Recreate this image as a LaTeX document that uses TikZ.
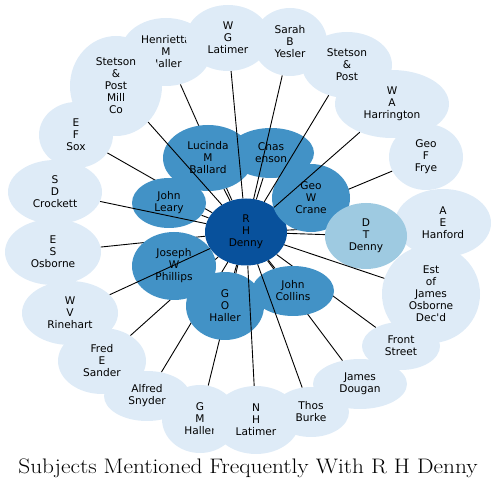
\documentclass[tikz,border=0pt]{standalone}
\usepackage{fontspec}
\newfontfamily\bubblefont{DejaVu Sans}
\usetikzlibrary{shapes.geometric}
\pgfdeclarelayer{background}
\pgfdeclarelayer{foreground}
\pgfsetlayers{background,main,foreground}
\definecolor{outerblue}{HTML}{DEEBF7}
\definecolor{innerblue}{HTML}{4292C6}
\definecolor{paleblue}{HTML}{9ECAE1}
\definecolor{coreblue}{HTML}{08519C}
\tikzset{
  bubble/.style={ellipse, inner sep=0pt, align=center,
    font={\bubblefont\fontsize{10.6}{12}\selectfont}},
  sz/.style 2 args={minimum width=#1pt, minimum height=#2pt},
  outer/.style={bubble, fill=outerblue},
  inner/.style={bubble, fill=innerblue},
  link/.style={line width=0.9pt},
}
\begin{document}
\begin{tikzpicture}[x=1pt,y=-1pt]
\useasboundingbox (0,0) rectangle (496,489);
% outer ring
\node[outer, sz={90}{68}] (henrietta) at (166,52) {Henrietta\\M\\Haller};
\node[outer, sz={92}{100}] (stetsonmill) at (116,86) {Stetson\\\&\\Post\\Mill\\Co};
\node[outer, sz={84}{66}] (wglatimer) at (228,38) {W\\G\\Latimer};
\node[outer, sz={74}{68}] (yesler) at (290,42) {Sarah\\B\\Yesler};
\node[outer, sz={114}{68}] (harrington) at (392,104) {W\\A\\Harrington};
\node[outer, sz={90}{66}] (stetsonpost) at (347,65) {Stetson\\\&\\Post};
\node[outer, sz={74}{66}] (frye) at (426,157) {Geo\\F\\Frye};
\node[outer, sz={96}{68}] (hanford) at (443,223) {A\\E\\Hanford};
\node[outer, sz={98}{98}] (estosborne) at (431,294) {Est\\of\\James\\Osborne\\Dec'd};
\node[outer, sz={78}{48}] (frontst) at (401,346) {Front\\Street};
\node[outer, sz={94}{50}] (dougan) at (360,384) {James\\Dougan};
\node[outer, sz={76}{68}] (gmhaller) at (200,419) {G\\M\\Haller};
\node[outer, sz={88}{68}] (nhlatimer) at (256,420) {N\\H\\Latimer};
\node[outer, sz={76}{50}] (burke) at (311,412) {Thos\\Burke};
\node[outer, sz={86}{50}] (snyder) at (147,396) {Alfred\\Snyder};
\node[outer, sz={88}{66}] (sander) at (102,361) {Fred\\E\\Sander};
\node[outer, sz={96}{64}] (rinehart) at (70,313) {W\\V\\Rinehart};
\node[outer, sz={96}{66}] (esosborne) at (53,252) {E\\S\\Osborne};
\node[outer, sz={94}{64}] (crockett) at (55,192) {S\\D\\Crockett};
\node[outer, sz={74}{66}] (sox) at (76,135) {E\\F\\Sox};
% inner ring
\node[inner, sz={86}{50}] (chas) at (271,153) {Chas\\enson};
\node[inner, sz={90}{66}] (ballard) at (208,158) {Lucinda\\M\\Ballard};
\node[inner, sz={74}{50}] (leary) at (169,203) {John\\Leary};
\node[inner, sz={84}{68}] (phillips) at (174,266) {Joseph\\W\\Phillips};
\node[inner, sz={78}{68}] (gohaller) at (225,306) {G\\O\\Haller};
\node[inner, sz={82}{50}] (collins) at (293,291) {John\\Collins};
\node[bubble, fill=coreblue, sz={82}{67}] (denny) at (246,232) {R\\H\\Denny};
\node[inner, sz={78}{68}] (crane) at (311,198) {Geo\\W\\Crane};
\node[bubble, fill=paleblue, sz={82}{66}] (dtdenny) at (366,236) {D\\T\\Denny};
% links behind the inner ring
\begin{pgfonlayer}{background}
\foreach \s in {henrietta,sox,esosborne,sander,snyder,gmhaller,dougan,frontst,
    hanford,frye,chas,ballard,leary,phillips,gohaller,collins,crane,dtdenny}
  \draw[link] (denny) -- (\s);
\end{pgfonlayer}
% links over the inner ring
\begin{pgfonlayer}{foreground}
\foreach \s in {wglatimer,yesler,stetsonpost,harrington,estosborne,burke,
    nhlatimer,rinehart,crockett,stetsonmill}
  \draw[link] (denny) -- (\s);
\end{pgfonlayer}
% title
\node[anchor=base, font=\fontsize{21}{24}\selectfont] (title) at (248,474)
  {\scalebox{1.11}[1]{Subjects Mentioned Frequently With R H Denny}};
\end{tikzpicture}
\end{document}
